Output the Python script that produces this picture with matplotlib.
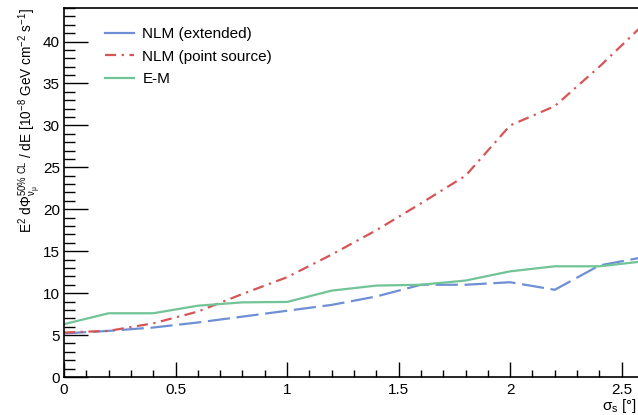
import matplotlib
matplotlib.use("Agg")
import matplotlib.pyplot as plt
from matplotlib.ticker import MultipleLocator

plt.rcParams['font.family'] = ['Liberation Sans', 'DejaVu Sans']
plt.rcParams['mathtext.fontset'] = 'custom'
plt.rcParams['mathtext.rm'] = 'Liberation Sans'
plt.rcParams['mathtext.it'] = 'Liberation Sans'
plt.rcParams['mathtext.sf'] = 'Liberation Sans'

sigma = [0.0, 0.2, 0.4, 0.6, 0.8, 1.0, 1.2, 1.4, 1.6, 1.8, 2.0, 2.2, 2.4, 2.6]
nlm_extended = [5.2, 5.5, 5.9, 6.5, 7.2, 7.9, 8.6, 9.6, 11.0, 11.0, 11.3, 10.4, 13.3, 14.3]
nlm_point = [5.3, 5.5, 6.4, 7.8, 9.9, 11.9, 14.6, 17.5, 20.7, 24.0, 30.0, 32.3, 37.0, 42.1]
em = [6.3, 7.6, 7.6, 8.5, 8.9, 8.95, 10.3, 10.9, 11.0, 11.5, 12.6, 13.2, 13.2, 13.8]

labels = ["NLM (extended)", "NLM (point source)", "E-M"]

fig = plt.figure(figsize=(6.38, 4.15), dpi=100)
ax = fig.add_axes([64/638, 38/415, 580/638, 369/415])

ax.plot(sigma, nlm_extended, color='#6f8fd5', lw=1.6, dashes=(10, 3), label=labels[0])
ax.plot(sigma, nlm_point, color='#d65555', lw=1.6, dashes=(5, 2.5, 1, 2.5), label=labels[1])
ax.plot(sigma, em, color='#72c395', lw=1.6, label=labels[2])

ax.set_xlim(0, 2.6)
ax.set_ylim(0, 44)
ax.xaxis.set_major_locator(MultipleLocator(0.5))
ax.xaxis.set_minor_locator(MultipleLocator(0.1))
ax.yaxis.set_major_locator(MultipleLocator(5))
ax.yaxis.set_minor_locator(MultipleLocator(1))
ax.tick_params(which='both', direction='in', top=False, right=False, labelsize=11, width=1, colors='black')
ax.tick_params(axis='y', which='major', length=17, pad=3)
ax.tick_params(axis='y', which='minor', length=8)
ax.tick_params(axis='x', which='major', length=11, pad=4)
ax.tick_params(axis='x', which='minor', length=5)
ax.set_xticks([0, 0.5, 1, 1.5, 2, 2.5])
ax.set_xticklabels(['0', '0.5', '1', '1.5', '2', '2.5'])
ax.set_yticks(range(0, 45, 5))
ax.set_yticklabels([str(v) for v in range(0, 45, 5)])
for s in ax.spines.values():
    s.set_linewidth(1.2)

ax.set_ylabel(r'E$^2$ d$\Phi^{50\%\ CL}_{\nu_{\mu}}$ / dE [10$^{-8}$ GeV cm$^{-2}$ s$^{-1}$]',
              fontsize=9.8, loc='top', labelpad=0)
fig.text(637/638, 0/415, r'$\sigma_{\rm s}$ [°]', ha='right', va='bottom', fontsize=11)

leg = ax.legend(loc='upper left', bbox_to_anchor=(0.047, 0.985), frameon=False, fontsize=11,
                handlelength=1.9, handletextpad=0.55, labelspacing=0.55)
for h in leg.get_lines():
    h.set_linestyle('-')
leg.get_lines()[1].set_dashes((5, 2.5, 1, 2.5))

fig.savefig('out.png', dpi=100)
